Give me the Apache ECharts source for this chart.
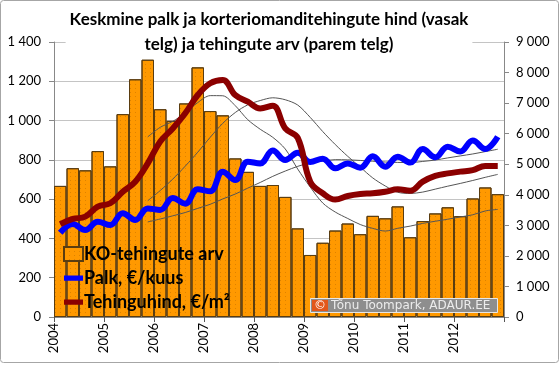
<!DOCTYPE html>
<html><head><meta charset="utf-8">
<script src="https://cdn.jsdelivr.net/npm/echarts@6/dist/echarts.min.js"></script>
<style>html,body{margin:0;padding:0;background:#fff}#c{width:560px;height:365px}</style>
</head><body><div id="c"></div>
<script>
const years = ['2004','2005','2006','2007','2008','2009','2010','2011','2012'];
const quarters = ['I','II','III','IV'];
const categories = years.flatMap(y => quarters.map(q => y + ' ' + q));
// KO-tehingute arv (right axis)
const deals = [4290, 4870, 4800, 5430, 4930, 6640, 7780, 8420, 6800, 6420, 6990, 8170,
  6740, 6600, 5190, 4750, 4290, 4320, 3930, 2900, 2030, 2430, 2830, 3060,
  2710, 3310, 3230, 3620, 2610, 3140, 3390, 3590, 3300, 3880, 4240, 4020];
// Palk, €/kuus (left axis)
const wage = [429, 473, 443, 485, 468, 528, 494, 553, 545, 606, 577, 650,
  640, 740, 697, 791, 782, 848, 799, 836, 789, 806, 757, 782,
  760, 818, 765, 816, 786, 855, 813, 867, 842, 898, 855, 918];
// Tehinguhind, €/m² (left axis)
const price = [473, 499, 511, 562, 579, 638, 689, 782, 893, 960, 1037, 1130,
  1190, 1207, 1130, 1096, 1062, 1075, 960, 912, 689, 630, 598, 616,
  626, 630, 638, 650, 643, 689, 718, 731, 740, 748, 769, 769];
const leftTicks = {min: 0, max: 1400, interval: 200};
const rightTicks = {min: 0, max: 9000, interval: 1000};
const names = ['KO-tehingute arv', 'Palk, €/kuus', 'Tehinguhind, €/m²'];

// 8-quarter moving-average trendlines (as in the original chart)
function movingAvg(arr, n) {
  return arr.map((v, i) => i < n - 1 ? null :
    Math.round(arr.slice(i - n + 1, i + 1).reduce((a, b) => a + b, 0) / n));
}
const fmt = v => String(v).replace(/\B(?=(\d{3})+(?!\d))/g, ' ');
const font = 'Lato, "Open Sans", sans-serif';
const lineIcon = 'path://M0,0h0.01v0.01h-0.01z M0,14h0.01v0.01h-0.01z M0,4.5h20v5.5h-20z';

const chart = echarts.init(document.getElementById('c'), null, {renderer: 'canvas'});
const thin = {color: '#555', width: 1};
chart.setOption({
  animation: false,
  backgroundColor: '#fff',
  title: {
    text: 'Keskmine palk ja korteriomanditehingute hind (vasak\ntelg) ja tehingute arv (parem telg)',
    left: 265, top: 3, textAlign: 'center',
    backgroundColor: '#fff', padding: [4, 4, 2, 4],
    textStyle: {fontFamily: font, fontWeight: 'bold', fontSize: 17, color: '#000', lineHeight: 25}
  },
  grid: {left: 54, right: 56, top: 42, bottom: 48},
  legend: {
    orient: 'vertical', left: 58, top: 240, itemGap: 6, itemWidth: 19, itemHeight: 14,
    data: [{name: names[0], icon: 'rect'}, {name: names[1], icon: lineIcon}, {name: names[2], icon: lineIcon}],
    textStyle: {fontFamily: font, fontWeight: 'bold', fontSize: 18, color: '#000', padding: [0, 0, 0, -4]}
  },
  xAxis: [{
    type: 'category', data: categories, boundaryGap: true,
    axisLine: {lineStyle: {color: '#888'}}, axisTick: {show: false}, axisLabel: {show: false}
  }, {
    type: 'value', min: 0, max: categories.length, interval: quarters.length, position: 'bottom',
    axisLine: {show: false}, splitLine: {show: false},
    axisTick: {show: true, length: 5, lineStyle: {color: '#555'}},
    axisLabel: {rotate: 90, margin: 6, fontFamily: font, fontSize: 13, color: '#000',
      formatter: v => years[v / quarters.length] || ''}
  }],
  yAxis: [{
    type: 'value', ...leftTicks,
    axisLine: {show: true, lineStyle: {color: '#888'}},
    axisTick: {show: true, length: 5, lineStyle: {color: '#888'}},
    splitLine: {lineStyle: {color: '#c4c4c4'}},
    axisLabel: {fontFamily: font, fontSize: 13, color: '#000', margin: 13, formatter: fmt}
  }, {
    type: 'value', ...rightTicks,
    axisLine: {show: true, lineStyle: {color: '#888'}},
    axisTick: {show: true, length: 5, lineStyle: {color: '#888'}},
    splitLine: {show: false},
    axisLabel: {fontFamily: font, fontSize: 13, color: '#000', margin: 12, formatter: fmt}
  }],
  series: [{
    name: names[0], type: 'bar', data: deals, yAxisIndex: 1, xAxisIndex: 0, barCategoryGap: 0,
    itemStyle: {color: '#ff9900', borderColor: '#5a3d10', borderWidth: 1,
      decal: {symbol: 'rect', symbolSize: 1, dashArrayX: [1, 4], dashArrayY: [1, 3],
        color: 'rgba(170,95,0,0.4)', rotation: 0}}
  }, {
    type: 'line', data: movingAvg(deals, 8), yAxisIndex: 1, symbol: 'none', smooth: 0.3,
    lineStyle: thin, silent: true, z: 3
  }, {
    type: 'line', data: movingAvg(price, 8), yAxisIndex: 0, symbol: 'none', smooth: 0.3,
    lineStyle: thin, silent: true, z: 3
  }, {
    type: 'line', data: movingAvg(wage, 8), yAxisIndex: 0, symbol: 'none', smooth: 0.3,
    lineStyle: thin, silent: true, z: 3
  }, {
    name: names[1], type: 'line', data: wage, yAxisIndex: 0, symbol: 'none', smooth: 0.4,
    color: '#0000ff', lineStyle: {color: '#0000ff', width: 6}, z: 4
  }, {
    name: names[2], type: 'line', data: price, yAxisIndex: 0, symbol: 'none', smooth: 0.4,
    color: '#8b0000', lineStyle: {color: '#8b0000', width: 6}, z: 5
  }],
  graphic: [{
    type: 'rect', shape: {x: 0.5, y: 0.5, width: 558, height: 362, r: 3},
    style: {fill: 'none', stroke: '#a6a6a6', lineWidth: 1}, z: 100
  }, {
    type: 'rect', z: 100, shape: {x: 310.5, y: 298.5, width: 187, height: 14},
    style: {fill: '#8e8e8e', stroke: '#e6e6e6', lineWidth: 1}
  }, {
    type: 'rect', z: 101, shape: {x: 312, y: 300, width: 16, height: 11}, style: {fill: '#e2571b'}
  }, {
    type: 'text', z: 102, x: 320, y: 305.5,
    style: {text: '©', fill: '#fff', font: '12px "DejaVu Sans"', align: 'center', verticalAlign: 'middle'}
  }, {
    type: 'text', z: 102, x: 331, y: 306,
    style: {text: 'Tõnu Toompark, ADAUR.EE', fill: '#ececec', font: '12px "DejaVu Sans"', verticalAlign: 'middle'}
  }]
});
</script></body></html>
